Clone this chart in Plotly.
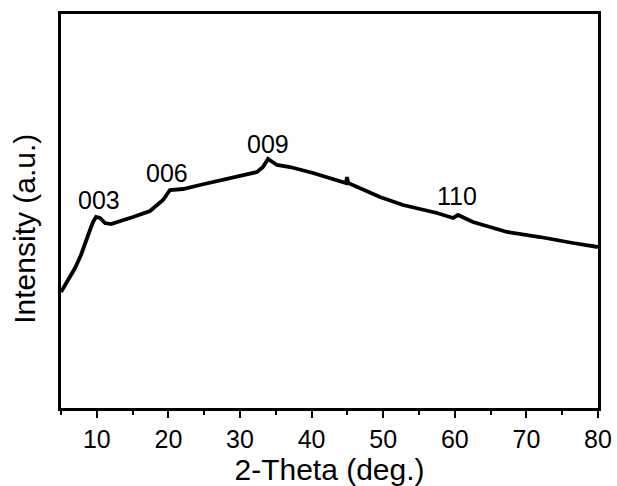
import plotly.graph_objects as go

two_theta = [5.00, 5.98, 6.96, 7.79, 8.49, 9.05, 9.47, 9.89, 10.45, 11.15, 11.98,
             12.96, 15.06, 17.43, 19.25, 20.22, 22.04, 24.41, 27.63, 32.37, 33.21,
             33.91, 35.17, 36.98, 40.20, 44.80, 44.95, 45.10, 49.55, 52.77, 57.51,
             59.75, 60.45, 62.54, 67.29, 71.9, 76.5, 80.0]
intensity = [116, 128, 140, 153, 168, 178, 186, 191, 190, 185, 184,
             186, 191, 197, 208, 218, 219, 223, 228, 236, 241,
             249, 243, 241, 235, 225, 231, 225, 211, 203, 195,
             190, 193, 186, 176, 171, 165, 161]

peak_labels = ["003", "006", "009", "110"]
peak_x = [10.3, 19.8, 33.9, 60.3]
peak_y = [208, 235, 264, 212]

x_tickvals = [10, 20, 30, 40, 50, 60, 70, 80]
x_ticktext = ["10", "20", "30", "40", "50", "60", "70", "80"]
x_minor = [5, 15, 25, 35, 45, 55, 65, 75]

fig = go.Figure()
fig.add_trace(go.Scatter(x=two_theta, y=intensity, mode="lines",
                         line=dict(color="black", width=3.8), showlegend=False))

for lab, px, py in zip(peak_labels, peak_x, peak_y):
    fig.add_annotation(x=px, y=py, text=lab, showarrow=False,
                       font=dict(family="Liberation Sans, Arial", size=25, color="black"))

fig.add_annotation(xref="paper", yref="paper", x=-0.067, y=0.455,
                   xanchor="center", yanchor="middle",
                   text="Intensity (a.u.)", textangle=-90, showarrow=False,
                   font=dict(family="Liberation Sans, Arial", size=30, color="black"))

fig.update_layout(
    width=617, height=486,
    margin=dict(l=61, r=19, t=14, b=78),
    paper_bgcolor="white", plot_bgcolor="white",
    font=dict(family="Liberation Sans, Arial", color="black"),
)
fig.update_xaxes(range=[5, 80], tickvals=x_tickvals, ticktext=x_ticktext,
                 ticks="outside", ticklen=7, tickwidth=2, tickcolor="black",
                 minor=dict(tickvals=x_minor, ticks="outside",
                            ticklen=4, tickwidth=2, tickcolor="black"),
                 showline=True, linewidth=2.5, linecolor="black", mirror=True,
                 showgrid=False, zeroline=False, automargin=False,
                 tickfont=dict(size=25, color="black"),
                 title=dict(text="2-Theta (deg.)", font=dict(size=30, color="black"), standoff=0))
fig.update_yaxes(range=[0, 394], showticklabels=False, ticks="",
                 showline=True, linewidth=2.5, linecolor="black", mirror=True,
                 showgrid=False, zeroline=False, automargin=False)

fig.write_html("out.html")
